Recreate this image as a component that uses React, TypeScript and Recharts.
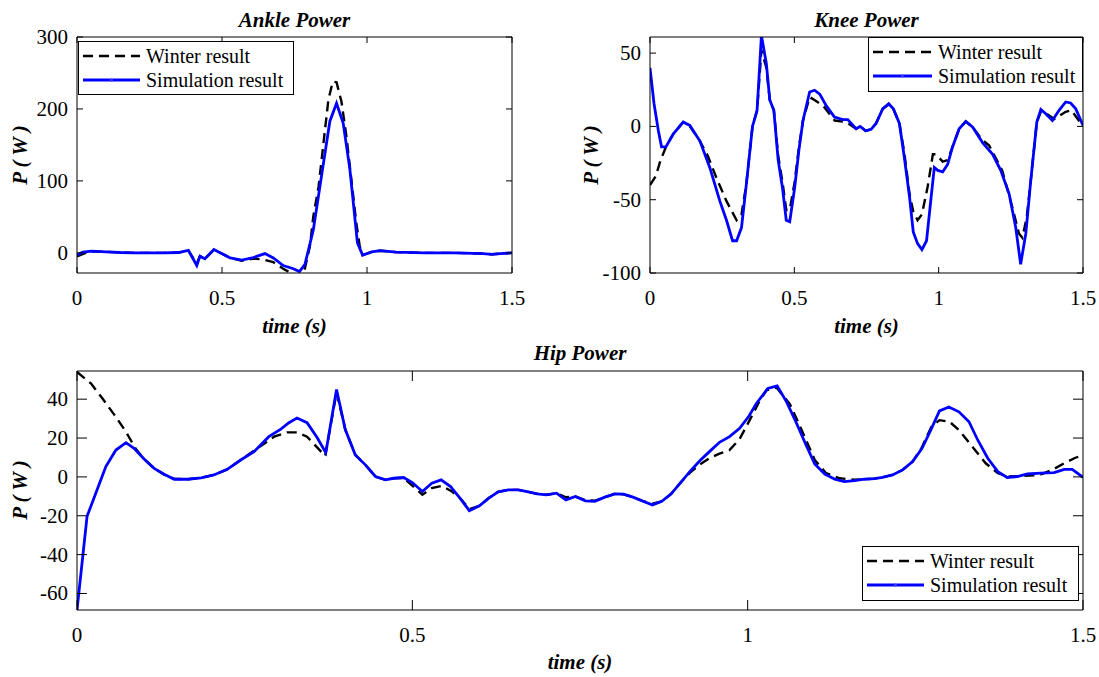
import React from 'react';
import { LineChart, Line, XAxis, YAxis } from 'recharts';

const FONT = '"Liberation Serif", "Times New Roman", Times, serif';

const seriesNames = ['Winter result', 'Simulation result'];
const panelTitles = ['Ankle Power', 'Knee Power', 'Hip Power'];
const xLabel = 'time (s)';
const yLabel = 'P ( W )';

const timeTicks = [0, 0.5, 1, 1.5];
const ankleTicks = [0, 100, 200, 300];
const kneeTicks = [-100, -50, 0, 50];
const hipTicks = [-60, -40, -20, 0, 20, 40];

const ankleDomain = [-28, 300];
const kneeDomain = [-100, 61];
const hipDomain = [-68.5, 54.5];

// [time (s), power (W)]
const ankleWinter: [number, number][] = [
  [0, -5], [0.03, 0], [0.06, 2], [0.1, 1.5], [0.15, 0.5], [0.2, 0], [0.3, 0], [0.35, 0.5],
  [0.384, 3], [0.413, -15], [0.424, -4.6], [0.441, -8], [0.472, 4], [0.499, -1], [0.528, -7],
  [0.568, -11], [0.608, -8], [0.64, -9], [0.677, -13], [0.711, -22], [0.746, -30], [0.78, -32],
  [0.803, 9], [0.815, 51], [0.833, 92], [0.85, 153], [0.867, 213], [0.882, 238], [0.895, 237],
  [0.912, 210], [0.929, 162], [0.946, 102], [0.963, 42], [0.975, 9], [0.985, -3], [1.016, 1.4],
  [1.045, 3], [1.1, 1], [1.2, 0], [1.3, 0], [1.4, -1], [1.43, -2], [1.46, -1], [1.5, 0],
];

const ankleSim: [number, number][] = [
  [0, -3], [0.02, 1], [0.05, 2.5], [0.1, 1.5], [0.15, 0.5], [0.2, 0], [0.25, 0], [0.3, 0],
  [0.35, 0.5], [0.384, 3.6], [0.413, -17.6], [0.424, -4.6], [0.441, -8.3], [0.472, 4.6],
  [0.485, 2], [0.499, -1], [0.528, -7], [0.568, -10], [0.608, -6.5], [0.648, -1], [0.677, -7],
  [0.711, -17.6], [0.746, -22], [0.767, -26], [0.786, -16], [0.815, 32], [0.85, 125],
  [0.872, 183], [0.895, 208], [0.918, 180], [0.941, 116], [0.967, 14], [0.985, -3.3],
  [1.016, 1.4], [1.045, 3], [1.1, 1], [1.2, 0], [1.3, 0], [1.4, -1], [1.43, -2], [1.46, -1], [1.5, 0],
];

const kneeWinter: [number, number][] = [
  [0, -40], [0.02, -34], [0.035, -24], [0.055, -14], [0.081, -5], [0.115, 3], [0.138, 0],
  [0.17, -9], [0.2, -20], [0.23, -35], [0.265, -51], [0.3, -64], [0.317, -60], [0.334, -39],
  [0.355, 0], [0.371, 11], [0.386, 52], [0.403, 40], [0.415, 18], [0.429, 11], [0.444, -20],
  [0.459, -38], [0.472, -57], [0.484, -57], [0.501, -38], [0.516, -14], [0.53, 4], [0.553, 20],
  [0.57, 18], [0.6, 14], [0.64, 4], [0.68, 3], [0.714, -1.6], [0.728, 0], [0.747, -3],
  [0.766, -2], [0.783, 2], [0.806, 12], [0.827, 15], [0.843, 12], [0.864, 2], [0.881, -18],
  [0.899, -46], [0.912, -58], [0.927, -64], [0.942, -60], [0.962, -41], [0.98, -19], [0.99, -19],
  [1.014, -24], [1.031, -23], [1.048, -14], [1.071, -1.6], [1.094, 3.4], [1.118, -0.5],
  [1.15, -9], [1.175, -13], [1.22, -30], [1.255, -55], [1.278, -73], [1.29, -76], [1.305, -62],
  [1.319, -37], [1.34, 3], [1.354, 10], [1.371, 9], [1.4, 5], [1.44, 10], [1.46, 11], [1.5, 0],
];

const kneeSim: [number, number][] = [
  [0, 40], [0.014, 15.5], [0.029, -3], [0.04, -14], [0.055, -14], [0.081, -5], [0.115, 3],
  [0.138, 0.7], [0.173, -10], [0.207, -28], [0.242, -51], [0.265, -64], [0.286, -78], [0.3, -78],
  [0.317, -69], [0.334, -39], [0.355, 0], [0.371, 11], [0.386, 62], [0.403, 43], [0.415, 18],
  [0.429, 11], [0.444, -23], [0.459, -42], [0.472, -64], [0.484, -65], [0.501, -42], [0.516, -16],
  [0.53, 4], [0.553, 23.5], [0.57, 24.7], [0.588, 22], [0.611, 14], [0.639, 6.4], [0.668, 4.6],
  [0.685, 4.6], [0.714, -1.6], [0.728, 0], [0.747, -3], [0.766, -2], [0.783, 2], [0.806, 12],
  [0.827, 15.5], [0.843, 12], [0.864, 2], [0.881, -21], [0.899, -48], [0.912, -72], [0.927, -80],
  [0.942, -84], [0.958, -78], [0.974, -48], [0.985, -28], [0.997, -30], [1.014, -31], [1.031, -26],
  [1.048, -14], [1.071, -1.6], [1.094, 3.4], [1.118, -0.5], [1.152, -11], [1.187, -19], [1.215, -30],
  [1.244, -46], [1.267, -69], [1.284, -94], [1.302, -73], [1.319, -37], [1.34, 3], [1.354, 11.6],
  [1.371, 8.7], [1.394, 4], [1.417, 11], [1.44, 16.7], [1.457, 16], [1.475, 12], [1.5, 0.7],
];

const hipWinter: [number, number][] = [
  [0, 54], [0.021, 48], [0.038, 40.3], [0.056, 31.8], [0.073, 23.2], [0.087, 14.7], [0.1, 9.2],
  [0.115, 4.4], [0.13, 1.2], [0.145, -1], [0.165, -1.2], [0.185, -0.5], [0.204, 1], [0.224, 3.9],
  [0.244, 8.7], [0.26, 12.5], [0.274, 15.9], [0.294, 20.7], [0.313, 22.9], [0.328, 22.9],
  [0.343, 20.7], [0.358, 15.2], [0.37, 10.8], [0.387, 43.5], [0.4, 24.4], [0.415, 11.3],
  [0.43, 6.2], [0.445, 0.2], [0.46, -1.5], [0.472, -0.7], [0.487, -0.5], [0.5, -4.5],
  [0.515, -9.2], [0.529, -5.8], [0.544, -4.6], [0.559, -7.5], [0.571, -10.9], [0.585, -16.5],
  [0.6, -14.9], [0.614, -10.9], [0.628, -7.7], [0.643, -6.7], [0.658, -6.7], [0.673, -7.7],
  [0.686, -8.7], [0.7, -9.2], [0.715, -8.4], [0.729, -10.5], [0.743, -10.1], [0.758, -12],
  [0.772, -12.3], [0.787, -10.4], [0.802, -8.7], [0.815, -9], [0.829, -10.4], [0.844, -12.5],
  [0.858, -13.8], [0.872, -12.6], [0.886, -8.7], [0.9, -2.9], [0.915, 2.5], [0.929, 6.5],
  [0.943, 9.6], [0.958, 12], [0.973, 13.8], [0.988, 19.5], [1.003, 29.2], [1.017, 38.6],
  [1.028, 44.6], [1.043, 46], [1.063, 37.4], [1.082, 23], [1.1, 8.7], [1.117, 1.9], [1.137, -0.7],
  [1.159, -1.5], [1.174, -1.2], [1.189, -0.9], [1.201, -0.2], [1.216, 1], [1.231, 3.6],
  [1.246, 7.9], [1.259, 14.7], [1.274, 25.8], [1.286, 29.2], [1.301, 28.4], [1.315, 24.1],
  [1.335, 15.6], [1.355, 7], [1.373, 1.9], [1.39, 0.2], [1.41, 0.5], [1.435, 1], [1.454, 3.6],
  [1.472, 7], [1.487, 9.6], [1.5, 11.3],
];

const hipSim: [number, number][] = [
  [0, -68.5], [0.015, -20.3], [0.028, -8.4], [0.043, 5.3], [0.058, 13.8], [0.073, 17.6],
  [0.085, 14.7], [0.1, 9.2], [0.115, 4.4], [0.13, 1.4], [0.145, -1.2], [0.165, -1.2],
  [0.185, -0.5], [0.204, 1], [0.224, 3.9], [0.244, 8.7], [0.264, 13], [0.286, 20.7],
  [0.304, 24.6], [0.316, 27.9], [0.328, 30.3], [0.343, 27.9], [0.358, 20.3], [0.371, 12.5],
  [0.387, 45], [0.4, 24.4], [0.415, 11.3], [0.43, 6.2], [0.445, 0.2], [0.46, -1.5], [0.472, -0.7],
  [0.487, -0.3], [0.5, -2.9], [0.515, -7.5], [0.529, -3.2], [0.543, -1.5], [0.557, -5],
  [0.571, -10.9], [0.585, -17.4], [0.6, -14.9], [0.614, -10.9], [0.628, -7.7], [0.643, -6.7],
  [0.658, -6.7], [0.673, -7.7], [0.686, -8.7], [0.7, -9.2], [0.715, -8.4], [0.729, -11.8],
  [0.743, -10.1], [0.758, -12.3], [0.772, -12.6], [0.787, -10.4], [0.802, -8.7], [0.815, -8.9],
  [0.829, -10.4], [0.844, -12.5], [0.858, -14.4], [0.872, -12.6], [0.886, -8.7], [0.9, -2.9],
  [0.915, 3.2], [0.929, 8.4], [0.943, 13], [0.958, 17.8], [0.973, 20.7], [0.988, 25],
  [1.002, 31.3], [1.013, 37.8], [1.03, 45.5], [1.044, 46.8], [1.058, 38.6], [1.073, 27.5],
  [1.087, 16.4], [1.1, 6.7], [1.115, 1.5], [1.13, -1.2], [1.144, -2.4], [1.159, -1.9],
  [1.174, -1.2], [1.189, -0.9], [1.201, -0.2], [1.216, 1], [1.231, 3.6], [1.246, 7.9],
  [1.26, 14.7], [1.273, 24.1], [1.286, 34], [1.3, 36], [1.315, 33.5], [1.33, 28.4], [1.343, 19],
  [1.358, 9.6], [1.373, 2.7], [1.387, -0.3], [1.402, 0.2], [1.417, 1.5], [1.437, 1.9],
  [1.457, 2.2], [1.472, 3.9], [1.484, 3.9], [1.5, -0.2],
];

const toRows = (pairs: [number, number][]) => pairs.map(([t, p]) => ({ t, p }));

const BLUE = '#0000ff';

type Side = 'left' | 'right' | 'top' | 'bottom';

const makeTick = (side: Side, len: number, showLabel: boolean) => (props: any) => {
  const { x, y, payload } = props;
  const v = String(payload.value);
  const common = { fontFamily: FONT, fontSize: 21, fill: '#000' } as const;
  if (side === 'bottom') {
    return (
      <g>
        <line x1={x} y1={y} x2={x} y2={y - len} stroke="#000" strokeWidth={1} />
        {showLabel && (
          <text x={x} y={y + 32} textAnchor="middle" {...common}>{v}</text>
        )}
      </g>
    );
  }
  if (side === 'top') {
    return <line x1={x} y1={y} x2={x} y2={y + len} stroke="#000" strokeWidth={1} />;
  }
  if (side === 'left') {
    return (
      <g>
        <line x1={x} y1={y} x2={x + len} y2={y} stroke="#000" strokeWidth={1} />
        {showLabel && (
          <text x={x - 9} y={y + 7} textAnchor="end" {...common}>{v}</text>
        )}
      </g>
    );
  }
  return <line x1={x} y1={y} x2={x - len} y2={y} stroke="#000" strokeWidth={1} />;
};

interface PanelProps {
  left: number;
  top: number;
  width: number;
  height: number;
  rightW: number;
  yDomain: number[];
  yTicks: number[];
  tickLen: number;
  winter: [number, number][];
  sim: [number, number][];
}

function Panel({ left, top, width, height, rightW, yDomain, yTicks, tickLen, winter, sim }: PanelProps) {
  return (
    <div style={{ position: 'absolute', left, top, width, height }}>
      <LineChart
        width={width}
        height={height}
        margin={{ top: 36, right: 0, bottom: 0, left: 0 }}
      >
        <XAxis
          xAxisId="b"
          type="number"
          dataKey="t"
          domain={[0, 1.5]}
          ticks={timeTicks}
          interval={0}
          allowDataOverflow
          orientation="bottom"
          height={40}
          stroke="#000"
          tickSize={0}
          tickMargin={0}
          tickLine={false}
          tick={makeTick('bottom', tickLen, true)}
        />
        <XAxis
          xAxisId="t"
          type="number"
          dataKey="t"
          domain={[0, 1.5]}
          ticks={timeTicks}
          interval={0}
          allowDataOverflow
          orientation="top"
          height={1}
          stroke="#000"
          tickSize={0}
          tickMargin={0}
          tickLine={false}
          tick={makeTick('top', tickLen, false)}
        />
        <YAxis
          yAxisId="l"
          type="number"
          domain={yDomain}
          ticks={yTicks}
          interval={0}
          allowDataOverflow
          orientation="left"
          width={77}
          stroke="#000"
          tickSize={0}
          tickMargin={0}
          tickLine={false}
          tick={makeTick('left', tickLen, true)}
        />
        <YAxis
          yAxisId="r"
          type="number"
          domain={yDomain}
          ticks={yTicks}
          interval={0}
          allowDataOverflow
          orientation="right"
          width={rightW}
          stroke="#000"
          tickSize={0}
          tickMargin={0}
          tickLine={false}
          tick={makeTick('right', tickLen, false)}
        />
        <Line
          xAxisId="b"
          yAxisId="l"
          data={toRows(winter)}
          dataKey="p"
          name={seriesNames[0]}
          type="linear"
          stroke="#000"
          strokeWidth={2.4}
          strokeDasharray="10 6"
          dot={false}
          activeDot={false}
          isAnimationActive={false}
        />
        <Line
          xAxisId="b"
          yAxisId="l"
          data={toRows(sim)}
          dataKey="p"
          name={seriesNames[1]}
          type="linear"
          stroke={BLUE}
          strokeWidth={2.8}
          dot={false}
          activeDot={false}
          isAnimationActive={false}
        />
      </LineChart>
    </div>
  );
}

function LegendBox({ left, top, width, height, lineW }: { left: number; top: number; width: number; height: number; lineW: number }) {
  return (
    <div
      style={{
        position: 'absolute',
        left,
        top,
        width,
        height,
        border: '1px solid #000',
        background: '#fff',
        boxSizing: 'border-box',
      }}
    >
      <svg width={width - 2} height={height - 2} style={{ position: 'absolute', left: 0, top: 0 }}>
        <line x1={4} x2={4 + lineW} y1={14} y2={14} stroke="#000" strokeWidth={2.4} strokeDasharray="10 6" />
        <line x1={4} x2={4 + lineW} y1={38} y2={38} stroke={BLUE} strokeWidth={2.8} />
        <circle cx={4 + lineW / 2} cy={38} r={1.6} fill="#3a3aff" />
        <text x={lineW + 10} y={21} fontFamily={FONT} fontSize={20} fill="#000">{seriesNames[0]}</text>
        <text x={lineW + 10} y={45} fontFamily={FONT} fontSize={20} fill="#000">{seriesNames[1]}</text>
      </svg>
    </div>
  );
}

const titleStyle = (cx: number, cy: number): React.CSSProperties => ({
  position: 'absolute',
  left: cx,
  top: cy,
  transform: 'translate(-50%, -50%)',
  fontFamily: FONT,
  fontWeight: 'bold',
  fontStyle: 'italic',
  fontSize: 21,
  whiteSpace: 'nowrap',
  color: '#000',
  lineHeight: 1,
});

const yLabelStyle = (cx: number, cy: number): React.CSSProperties => ({
  ...titleStyle(cx, cy),
  transform: 'translate(-50%, -50%) rotate(-90deg)',
});

export default function App() {
  return (
    <div
      style={{
        position: 'absolute',
        left: 0,
        top: 0,
        width: 1099,
        height: 677,
        background: '#fff',
        overflow: 'hidden',
      }}
    >
      <Panel left={0} top={0} width={537} height={313} rightW={25} yDomain={ankleDomain} yTicks={ankleTicks} tickLen={6} winter={ankleWinter} sim={ankleSim} />
      <Panel left={573} top={0} width={526} height={313} rightW={16} yDomain={kneeDomain} yTicks={kneeTicks} tickLen={6} winter={kneeWinter} sim={kneeSim} />
      <Panel left={0} top={334} width={1099} height={316} rightW={16} yDomain={hipDomain} yTicks={hipTicks} tickLen={10} winter={hipWinter} sim={hipSim} />

      <LegendBox left={78} top={41} width={216} height={54} lineW={57} />
      <LegendBox left={868} top={37} width={215} height={55} lineW={59} />
      <LegendBox left={862} top={546} width={217} height={55} lineW={57} />

      <div style={titleStyle(294.5, 20)}>{panelTitles[0]}</div>
      <div style={titleStyle(866.5, 20)}>{panelTitles[1]}</div>
      <div style={titleStyle(580, 353)}>{panelTitles[2]}</div>

      <div style={titleStyle(294.5, 326)}>{xLabel}</div>
      <div style={titleStyle(866.5, 326)}>{xLabel}</div>
      <div style={titleStyle(580, 662)}>{xLabel}</div>

      <div style={yLabelStyle(20, 155)}>{yLabel}</div>
      <div style={yLabelStyle(591, 155)}>{yLabel}</div>
      <div style={yLabelStyle(20, 490)}>{yLabel}</div>
    </div>
  );
}
